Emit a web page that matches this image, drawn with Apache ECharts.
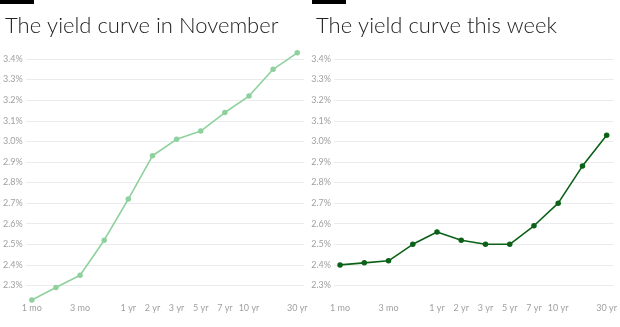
<!DOCTYPE html>
<html><head><meta charset="utf-8">
<script src="https://cdn.jsdelivr.net/npm/echarts@6/dist/echarts.min.js"></script>
<style>html,body{margin:0;padding:0;background:#fff}#c{width:620px;height:327px}</style>
</head><body><div id="c"></div>
<script>
const maturities = ['1 mo','2 mo','3 mo','6 mo','1 yr','2 yr','3 yr','5 yr','7 yr','10 yr','20 yr','30 yr'];
const labeledMaturities = ['1 mo','3 mo','1 yr','2 yr','3 yr','5 yr','7 yr','10 yr','30 yr'];
const novemberYields = [2.23, 2.29, 2.35, 2.52, 2.72, 2.93, 3.01, 3.05, 3.14, 3.22, 3.35, 3.43];
const thisWeekYields = [2.40, 2.41, 2.42, 2.50, 2.56, 2.52, 2.50, 2.50, 2.59, 2.70, 2.88, 3.03];
const titles = ['The yield curve in November', 'The yield curve this week'];

const FONT = 'Lato';
const labelIdx = labeledMaturities.map(l => maturities.indexOf(l));
const splitColors = [];
for (let i = 0; i < 14; i++) splitColors.push(i === 0 || i === 13 ? 'rgba(0,0,0,0)' : '#ebebeb');

function xAx(gi) {
  return {
    type: 'value', gridIndex: gi, min: -0.25, max: 11.28,
    axisLine: {show: false}, axisTick: {show: false}, splitLine: {show: false},
    axisLabel: {
      customValues: labelIdx, margin: -3, fontSize: 9, color: '#a0a0a0', fontFamily: FONT,
      formatter: v => maturities[Math.round(v)]
    }
  };
}
function yAx(gi) {
  return {
    type: 'value', gridIndex: gi, min: 2.2, max: 3.5, interval: 0.1,
    axisLine: {show: false}, axisTick: {show: false},
    splitLine: {show: true, lineStyle: {color: splitColors, width: 1}},
    axisLabel: {
      showMinLabel: false, showMaxLabel: false, margin: 3, fontSize: 9,
      color: '#a0a0a0', fontFamily: FONT, formatter: v => v.toFixed(1) + '%'
    }
  };
}
const chart = echarts.init(document.getElementById('c'), null, {renderer: 'canvas'});
chart.setOption({
  animation: false,
  textStyle: {fontFamily: FONT},
  title: [
    {text: titles[0], left: 0, top: 10, textStyle: {fontFamily: FONT, fontWeight: 300, fontSize: 22, color: '#222'}},
    {text: titles[1], left: 311, top: 10, textStyle: {fontFamily: FONT, fontWeight: 300, fontSize: 22, color: '#222'}}
  ],
  graphic: [
    {type: 'rect', shape: {x: 0, y: 0, width: 34, height: 4}, style: {fill: '#000'}},
    {type: 'rect', shape: {x: 312, y: 0, width: 34, height: 4}, style: {fill: '#000'}}
  ],
  grid: [
    {left: 22, width: 282, top: 38.4, height: 267.7},
    {left: 334, width: 282, top: 38.4, height: 267.7}
  ],
  xAxis: [xAx(0), xAx(1)],
  yAxis: [yAx(0), yAx(1)],
  series: [
    {type: 'line', xAxisIndex: 0, yAxisIndex: 0, data: novemberYields.map((v, i) => [i, v]),
     symbol: 'circle', symbolSize: 5.5, lineStyle: {color: '#8fd19e', width: 1.6}, itemStyle: {color: '#8fd19e'}},
    {type: 'line', xAxisIndex: 1, yAxisIndex: 1, data: thisWeekYields.map((v, i) => [i, v]),
     symbol: 'circle', symbolSize: 5.5, lineStyle: {color: '#0b6118', width: 1.6}, itemStyle: {color: '#0b6118'}}
  ]
});
</script></body></html>
